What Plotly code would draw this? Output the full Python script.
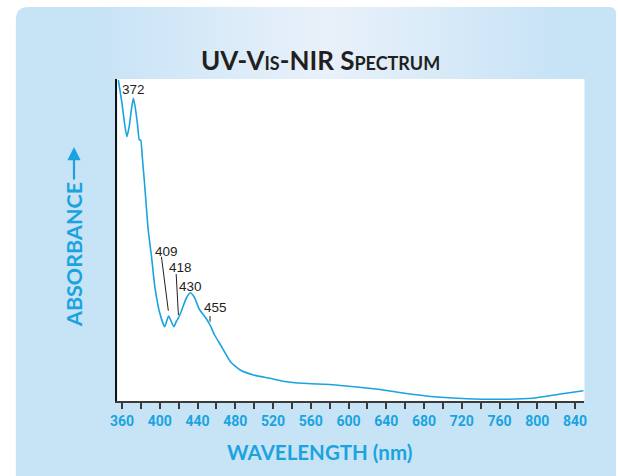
import numpy as np
import plotly.graph_objects as go

# ---------------- data ----------------
wavelength_nm = [356.0, 359.9, 362.6, 365.1, 367.5, 370.3, 372.0, 373.8, 376.2, 378.3, 379.7,
                 381.4, 384.2, 387.7, 391.2, 394.7, 399.9, 405.1, 409.3, 414.8, 417.7, 419.7,
                 422.9, 428.1, 432.3, 436.5, 441.7, 448.7, 453.2, 458.0, 464.4, 474.8, 485.2,
                 499.1, 516.6, 533.9, 551.4, 586.1, 631.4, 655.7, 690.5, 725.4, 760.2, 795.0,
                 822.8, 848.9]
absorbance = [321.0, 297.7, 277.7, 264.3, 274.3, 294.3, 302.7, 294.3, 277.7, 261.0, 261.0,
              244.3, 212.7, 171.0, 144.3, 114.3, 88.0, 74.3, 85.0, 74.3, 80.0, 83.0,
              90.0, 103.0, 108.3, 104.0, 92.0, 83.0, 76.0, 66.0, 56.0, 39.3, 31.0,
              26.0, 22.7, 19.3, 17.7, 16.0, 11.7, 8.3, 4.3, 2.3, 1.7, 2.7,
              6.7, 10.3]

peak_labels = ["372", "409", "418", "430", "455"]
peak_nm = [372, 409, 418, 430, 455]
x_tick_vals = list(range(360, 841, 40))
x_tick_text = [str(v) for v in x_tick_vals]

# ---------------- style ----------------
W, H = 618, 476
BLUE = "#1aa3df"
PANEL = "#c7e3f6"
PANEL_LIGHT = "#e9f1fa"
DARK = "#231f20"

PL, PR, PT, PB = 112, 586, 79, 401
XR = [355, 850]
YR = [0, 322]

fig = go.Figure()

bx = [90, 560, 560, 90, 90]
by = [7, 7, 79, 79, 7]
fig.add_trace(go.Scatter(
    x=bx, y=by, mode="lines", fill="toself", line=dict(width=0),
    fillgradient=dict(type="horizontal",
                      colorscale=[[0, PANEL], [0.5, PANEL_LIGHT], [1, PANEL]]),
    hoverinfo="skip", showlegend=False, xaxis="x", yaxis="y"))

fig.add_trace(go.Scatter(
    x=wavelength_nm, y=absorbance, mode="lines",
    line=dict(color=BLUE, width=1.6, shape="spline", smoothing=0.5),
    showlegend=False, xaxis="x2", yaxis="y2", cliponaxis=True))

shapes = []
r = 13
shapes.append(dict(type="path", xref="x", yref="y", layer="below",
                   path=f"M 9,{H} L 9,{7 + r} Q 9,7 {9 + r},7 L 611,7 Q 618,7 618,14 L 618,{H} Z",
                   fillcolor=PANEL, line=dict(width=0)))
shapes.append(dict(type="rect", xref="x", yref="y", layer="below",
                   x0=PL, x1=PR, y0=PT, y1=PB, fillcolor="white", line=dict(width=0)))


def py(nm):
    return float(np.interp(nm, wavelength_nm, absorbance))


leaders = {
    "409": ((-7.3, 60.0), (0.0, 6.0)),
    "418": ((-0.7, 44.0), (1.7, 3.0)),
    "455": ((-1.8, 9.0), (-1.8, 3.3)),
}
for lab, pk in zip(peak_labels, peak_nm):
    if lab in leaders:
        (dx0, dy0), (dx1, dy1) = leaders[lab]
        base = py(pk + dx1)
        shapes.append(dict(type="line", xref="x2", yref="y2",
                           x0=pk + dx0, y0=base + dy0,
                           x1=pk + dx1, y1=base + dy1,
                           line=dict(color=DARK, width=1)))

annotations = []
label_offsets = {
    "372": (0.0, 0.0, 8.5),
    "409": (-1.5, 0.0, 65.0),
    "418": (3.5, 0.0, 53.0),
    "430": (2.3, 0.0, 9.5),
    "455": (4.1, -1.8, 18.0),
}
for lab, pk in zip(peak_labels, peak_nm):
    dx, bdx, dy = label_offsets[lab]
    base = py(pk + bdx)
    annotations.append(dict(x=pk + dx, y=base + dy, xref="x2", yref="y2",
                            text=lab, showarrow=False,
                            font=dict(family="Liberation Sans, Arial", size=13.5, color=DARK),
                            xanchor="center", yanchor="middle"))

annotations.append(dict(x=318, y=60, xref="x", yref="y", text="UV-Vis-NIR Spectrum",
                        showarrow=False, xanchor="center", yanchor="middle",
                        font=dict(family="Lato, Open Sans", size=26, color=DARK,
                                  weight="bold", variant="small-caps")))
annotations.append(dict(x=68, y=255, xref="x", yref="y", text="ABSORBANCE",
                        showarrow=False, textangle=-90, xanchor="center", yanchor="middle",
                        font=dict(family="Lato, Open Sans", size=21.5, color=BLUE, weight="bold")))
annotations.append(dict(x=68, y=147, ax=68, ay=181, xref="x", yref="y", axref="x", ayref="y",
                        text="", showarrow=True, arrowhead=2, arrowsize=1.2, arrowwidth=2.2,
                        arrowcolor=BLUE, standoff=0, startstandoff=0))
annotations.append(dict(x=317, y=452, xref="x", yref="y", text="WAVELENGTH (nm)",
                        showarrow=False, xanchor="center", yanchor="middle",
                        font=dict(family="Lato, Open Sans", size=20.5, color=BLUE, weight="bold")))

fig.update_layout(
    width=W, height=H,
    margin=dict(l=0, r=0, t=0, b=0),
    paper_bgcolor="white",
    plot_bgcolor="rgba(0,0,0,0)",
    showlegend=False,
    shapes=shapes,
    annotations=annotations,
    xaxis=dict(domain=[0, 1], range=[0, W], visible=False, fixedrange=True),
    yaxis=dict(domain=[0, 1], range=[H, 0], visible=False, fixedrange=True),
    xaxis2=dict(domain=[PL / W, PR / W], range=XR, anchor="y2",
                showline=True, linecolor="#3a3a3a", linewidth=2,
                tickvals=x_tick_vals, ticktext=x_tick_text,
                ticks="outside", ticklen=6, tickwidth=1.5, tickcolor="#3a3a3a",
                minor=dict(ticks="outside", dtick=20, tick0=360, ticklen=6,
                           tickwidth=1.5, tickcolor="#3a3a3a", showgrid=False),
                showgrid=False, zeroline=False,
                tickfont=dict(family="Liberation Sans Narrow, Roboto",
                              size=14, color=BLUE, weight="bold")),
    yaxis2=dict(domain=[(H - PB) / H, (H - PT) / H], range=YR, anchor="x2",
                showline=True, linecolor="#111111", linewidth=1.5,
                showticklabels=False, ticks="", showgrid=False, zeroline=False),
)

fig.write_html("out.html", config={"displayModeBar": False},
               post_script="document.body.style.margin='0px';document.body.style.overflow='hidden';")
